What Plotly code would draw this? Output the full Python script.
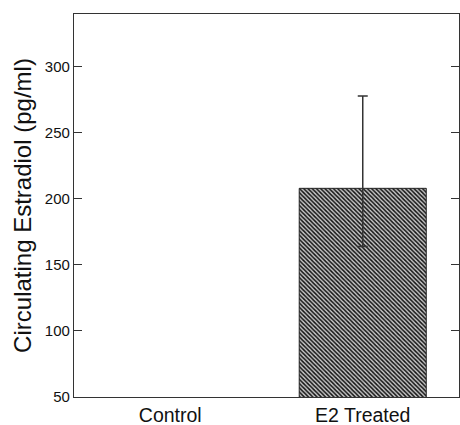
import plotly.graph_objects as go

categories = ["Control", "E2 Treated"]
values = [0, 208]
err_plus = [0, 70]
err_minus = [0, 44]
y_ticks = [50, 100, 150, 200, 250, 300]

fig = go.Figure()
fig.add_trace(go.Bar(
    x=categories, y=values, width=0.66,
    marker=dict(color="#4a4a4a", line=dict(color="#222", width=1),
                pattern=dict(shape="\\", size=3, solidity=0.5,
                             fgcolor="#111", bgcolor="#c8c8c8", fillmode="replace")),
    error_y=dict(type="data", symmetric=False, array=err_plus, arrayminus=err_minus,
                 color="#333", thickness=1.5, width=5),
    showlegend=False,
))
fig.update_layout(
    width=460, height=425,
    margin=dict(l=74, r=1, t=14, b=28),
    paper_bgcolor="white", plot_bgcolor="white",
    font=dict(family="Liberation Sans, Arial, sans-serif", color="#111"),
)
fig.update_yaxes(
    range=[50, 340], tickvals=y_ticks, ticks="inside", ticklen=8, tickcolor="#333",
    showgrid=False, zeroline=False, showline=True, linecolor="#333", linewidth=1.2,
    mirror="ticks", tickfont=dict(size=15), automargin=False,
    title=dict(text="Circulating Estradiol (pg/ml)", font=dict(size=24), standoff=6),
)
fig.update_xaxes(
    range=[-0.5, 1.5], showgrid=False, showline=True, linecolor="#333", linewidth=1.2,
    mirror=True, ticks="", tickfont=dict(size=19.5), automargin=False,
)
fig.write_html("out.html")
